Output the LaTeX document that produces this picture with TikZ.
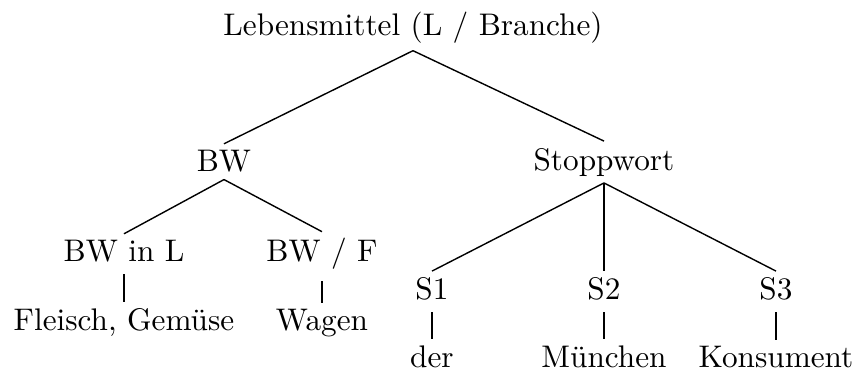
\documentclass[tikz,border=0pt]{standalone}
\usepackage{tikz}
\begin{document}
\begin{tikzpicture}[x=0.32pt, y=-0.32pt,
	every node/.style={anchor=base, inner sep=2pt, align=center},
	branch/.style={draw, line width=0.45pt},
	leaf/.style={draw, line width=0.45pt, shorten <=1.5pt}
	]
	\useasboundingbox (0,0) rectangle (854,370);

	% Nodes by level
	\node (root) at (413,36) {Lebensmittel (L / Branche)};

	\node (bw) at (224,172) {BW};
	\node (stop) at (604,170) {Stoppwort};

	\node (bwl) at (124,262) {BW in L};
	\node (bwf) at (322,262) {BW / F};
	\node (s1) at (432,300) {S1};
	\node (s2) at (604,300) {S2};
	\node (s3) at (776,300) {S3};

	\node (fleisch) at (124,331) {Fleisch, Gemüse};
	\node (wagen) at (322,331) {Wagen};
	\node (der) at (432,368) {der};
	\node (muc) at (604,368) {München};
	\node (kons) at (776,368) {Konsument};

	% Branches
	\draw[branch] (root.south) -- (bw.north);
	\draw[branch] (root.south) -- (stop.north);
	\draw[branch] (bw.south) -- (bwl.north);
	\draw[branch] (bw.south) -- (bwf.north);
	\draw[branch] (stop.south) -- (s1.north);
	\draw[branch] (stop.south) -- (s2.north);
	\draw[branch] (stop.south) -- (s3.north);

	% Leaves
	\draw[leaf] (bwl.south) -- (fleisch.north);
	\draw[leaf] (bwf.south) -- (wagen.north);
	\draw[leaf] (s1.south) -- (der.north);
	\draw[leaf] (s2.south) -- (muc.north);
	\draw[leaf] (s3.south) -- (kons.north);
\end{tikzpicture}
\end{document}
